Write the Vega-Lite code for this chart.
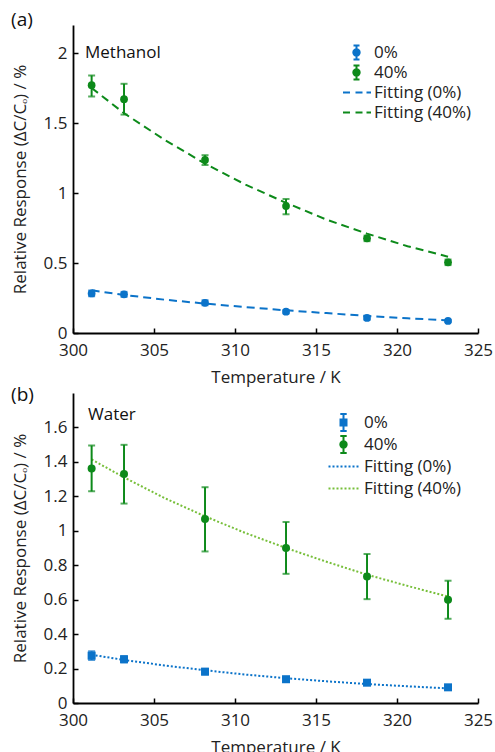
{
  "$schema": "https://vega.github.io/schema/vega-lite/v6.json",
  "background": "white",
  "padding": {"left": 11, "top": 11, "right": 0, "bottom": 0},
  "spacing": 1,
  "config": {
    "font": "Open Sans",
    "view": {"stroke": null},
    "axis": {
      "grid": false,
      "domainColor": "#000",
      "domainWidth": 1.8,
      "tickColor": "#000",
      "tickWidth": 1.5,
      "tickSize": -5,
      "labelFont": "Open Sans",
      "labelFontSize": 17,
      "labelColor": "#222",
      "labelFlush": false,
      "labelOverlap": false,
      "labelBound": false,
      "titleFont": "Open Sans",
      "titleFontSize": 17,
      "titleFontWeight": "normal",
      "titleColor": "#222"
    },
    "axisX": {"labelPadding": 14, "titlePadding": 11},
    "axisY": {"labelPadding": 11, "titlePadding": 14},
    "legend": {
      "labelFont": "Open Sans",
      "labelFontSize": 17,
      "labelColor": "#222",
      "symbolSize": 144,
      "symbolStrokeWidth": 2,
      "padding": 0
    },
    "title": {"font": "Open Sans", "fontSize": 19, "fontWeight": "normal", "color": "#111"}
  },
  "datasets": {
    "pts": [
      {"panel": "a", "series": "0%", "T": 301.15, "y": 0.283, "lo": 0.263, "hi": 0.303},
      {"panel": "a", "series": "0%", "T": 303.15, "y": 0.276, "lo": 0.258, "hi": 0.294},
      {"panel": "a", "series": "0%", "T": 308.15, "y": 0.216, "lo": 0.198, "hi": 0.234},
      {"panel": "a", "series": "0%", "T": 313.15, "y": 0.152, "lo": 0.14, "hi": 0.164},
      {"panel": "a", "series": "0%", "T": 318.15, "y": 0.108, "lo": 0.094, "hi": 0.122},
      {"panel": "a", "series": "0%", "T": 323.15, "y": 0.086, "lo": 0.078, "hi": 0.094},
      {"panel": "a", "series": "40%", "T": 301.15, "y": 1.77, "lo": 1.69, "hi": 1.84},
      {"panel": "a", "series": "40%", "T": 303.15, "y": 1.67, "lo": 1.56, "hi": 1.78},
      {"panel": "a", "series": "40%", "T": 308.15, "y": 1.236, "lo": 1.2, "hi": 1.27},
      {"panel": "a", "series": "40%", "T": 313.15, "y": 0.907, "lo": 0.848, "hi": 0.957},
      {"panel": "a", "series": "40%", "T": 318.15, "y": 0.676, "lo": 0.656, "hi": 0.696},
      {"panel": "a", "series": "40%", "T": 323.15, "y": 0.505, "lo": 0.485, "hi": 0.525},
      {"panel": "b", "series": "0%", "T": 301.15, "y": 0.275, "lo": 0.25, "hi": 0.3},
      {"panel": "b", "series": "0%", "T": 303.15, "y": 0.254, "lo": 0.236, "hi": 0.272},
      {"panel": "b", "series": "0%", "T": 308.15, "y": 0.182, "lo": 0.166, "hi": 0.198},
      {"panel": "b", "series": "0%", "T": 313.15, "y": 0.138, "lo": 0.124, "hi": 0.152},
      {"panel": "b", "series": "0%", "T": 318.15, "y": 0.118, "lo": 0.106, "hi": 0.13},
      {"panel": "b", "series": "0%", "T": 323.15, "y": 0.091, "lo": 0.08, "hi": 0.102},
      {"panel": "b", "series": "40%", "T": 301.15, "y": 1.361, "lo": 1.229, "hi": 1.495},
      {"panel": "b", "series": "40%", "T": 303.15, "y": 1.33, "lo": 1.158, "hi": 1.499},
      {"panel": "b", "series": "40%", "T": 308.15, "y": 1.069, "lo": 0.88, "hi": 1.253},
      {"panel": "b", "series": "40%", "T": 313.15, "y": 0.9, "lo": 0.75, "hi": 1.051},
      {"panel": "b", "series": "40%", "T": 318.15, "y": 0.735, "lo": 0.603, "hi": 0.865},
      {"panel": "b", "series": "40%", "T": 323.15, "y": 0.599, "lo": 0.489, "hi": 0.71}
    ],
    "fit": [
      {"panel": "a", "series": "Fitting (0%)", "T": 301.15, "y": 0.305},
      {"panel": "a", "series": "Fitting (0%)", "T": 303.15, "y": 0.272},
      {"panel": "a", "series": "Fitting (0%)", "T": 305.65, "y": 0.238},
      {"panel": "a", "series": "Fitting (0%)", "T": 308.15, "y": 0.21},
      {"panel": "a", "series": "Fitting (0%)", "T": 310.65, "y": 0.185},
      {"panel": "a", "series": "Fitting (0%)", "T": 313.15, "y": 0.162},
      {"panel": "a", "series": "Fitting (0%)", "T": 315.65, "y": 0.142},
      {"panel": "a", "series": "Fitting (0%)", "T": 318.15, "y": 0.122},
      {"panel": "a", "series": "Fitting (0%)", "T": 320.65, "y": 0.105},
      {"panel": "a", "series": "Fitting (0%)", "T": 323.15, "y": 0.09},
      {"panel": "a", "series": "Fitting (40%)", "T": 301.15, "y": 1.75},
      {"panel": "a", "series": "Fitting (40%)", "T": 303.15, "y": 1.57},
      {"panel": "a", "series": "Fitting (40%)", "T": 305.65, "y": 1.38},
      {"panel": "a", "series": "Fitting (40%)", "T": 308.15, "y": 1.21},
      {"panel": "a", "series": "Fitting (40%)", "T": 310.65, "y": 1.06},
      {"panel": "a", "series": "Fitting (40%)", "T": 313.15, "y": 0.93},
      {"panel": "a", "series": "Fitting (40%)", "T": 315.65, "y": 0.81},
      {"panel": "a", "series": "Fitting (40%)", "T": 318.15, "y": 0.71},
      {"panel": "a", "series": "Fitting (40%)", "T": 320.65, "y": 0.62},
      {"panel": "a", "series": "Fitting (40%)", "T": 323.15, "y": 0.545},
      {"panel": "b", "series": "Fitting (0%)", "T": 301.15, "y": 0.28},
      {"panel": "b", "series": "Fitting (0%)", "T": 303.15, "y": 0.25},
      {"panel": "b", "series": "Fitting (0%)", "T": 305.65, "y": 0.218},
      {"panel": "b", "series": "Fitting (0%)", "T": 308.15, "y": 0.19},
      {"panel": "b", "series": "Fitting (0%)", "T": 310.65, "y": 0.165},
      {"panel": "b", "series": "Fitting (0%)", "T": 313.15, "y": 0.144},
      {"panel": "b", "series": "Fitting (0%)", "T": 315.65, "y": 0.126},
      {"panel": "b", "series": "Fitting (0%)", "T": 318.15, "y": 0.11},
      {"panel": "b", "series": "Fitting (0%)", "T": 320.65, "y": 0.097},
      {"panel": "b", "series": "Fitting (0%)", "T": 323.15, "y": 0.085},
      {"panel": "b", "series": "Fitting (40%)", "T": 301.15, "y": 1.414},
      {"panel": "b", "series": "Fitting (40%)", "T": 303.15, "y": 1.31},
      {"panel": "b", "series": "Fitting (40%)", "T": 305.65, "y": 1.19},
      {"panel": "b", "series": "Fitting (40%)", "T": 308.15, "y": 1.084},
      {"panel": "b", "series": "Fitting (40%)", "T": 310.65, "y": 0.987},
      {"panel": "b", "series": "Fitting (40%)", "T": 313.15, "y": 0.9},
      {"panel": "b", "series": "Fitting (40%)", "T": 315.65, "y": 0.82},
      {"panel": "b", "series": "Fitting (40%)", "T": 318.15, "y": 0.745},
      {"panel": "b", "series": "Fitting (40%)", "T": 320.65, "y": 0.68},
      {"panel": "b", "series": "Fitting (40%)", "T": 323.15, "y": 0.618}
    ],
    "notes": [
      {"panel": "a", "T": 300.74, "y": 2.0, "label": "Methanol"},
      {"panel": "b", "T": 300.93, "y": 1.675, "label": "Water"}
    ]
  },
  "resolve": {"scale": {"color": "independent", "shape": "independent"}, "legend": {"color": "independent", "shape": "independent"}},
  "vconcat": [
    {
      "title": {"text": "(a)", "anchor": "start", "frame": "bounds", "offset": -5},
      "width": 405,
      "height": 308,
      "encoding": {
        "x": {"field": "T", "type": "quantitative", "scale": {"domain": [300, 325], "nice": false, "zero": false}, "axis": {"title": "Temperature / K", "values": [300, 305, 310, 315, 320, 325]}},
        "color": {
          "field": "series", "type": "nominal",
          "scale": {"domain": ["0%", "40%", "Fitting (0%)", "Fitting (40%)"], "range": ["#0b73c9", "#0d8a1a", "#0b73c9", "#0d8a1a"]},
          "legend": {"orient": "none", "legendX": 275, "legendY": 19, "labelOffset": 9, "rowPadding": -7, "title": null}
        }
      },
      "layer": [
        {
          "data": {"name": "pts"},
          "transform": [{"filter": "false"}],
          "mark": {"type": "point", "filled": true, "opacity": 1},
          "encoding": {
            "y": {"field": "y", "type": "quantitative", "scale": {"domain": [0, 2.2], "nice": false}, "axis": {"title": "Relative Response (ΔC/Cₒ) / %", "values": [0, 0.5, 1, 1.5, 2], "format": "~g"}},
            "shape": {"field": "series", "type": "nominal",
              "scale": {"domain": ["0%", "40%", "Fitting (0%)", "Fitting (40%)"],
                "range": [
                  "M-2.25,-1.2M2.417,1.2M-0.533,0A0.533,0.533,0,1,0,0.533,0A0.533,0.533,0,1,0,-0.533,0ZM0,-1.17V1.17M-0.5,-1.17H0.5M-0.5,1.17H0.5",
                  "M-2.25,-1.2M2.417,1.2M-0.533,0A0.533,0.533,0,1,0,0.533,0A0.533,0.533,0,1,0,-0.533,0ZM0,-1.17V1.17M-0.5,-1.17H0.5M-0.5,1.17H0.5",
                  "M-2.25,-1.2M2.417,1.2M-2.25,0H-1.083M-0.167,0H1.0M1.667,0H2.417",
                  "M-2.25,-1.2M2.417,1.2M-2.25,0H-1.083M-0.167,0H1.0M1.667,0H2.417"
                ]},
              "legend": {"orient": "none", "legendX": 275, "legendY": 19, "labelOffset": 9, "rowPadding": -7, "title": null}}
          }
        },
        {
          "data": {"name": "fit"},
          "transform": [{"filter": "datum.panel == 'a'"}],
          "mark": {"type": "line", "strokeDash": [8, 5], "strokeWidth": 2},
          "encoding": {"y": {"field": "y", "type": "quantitative", "axis": {"title": "Relative Response (ΔC/Cₒ) / %", "values": [0, 0.5, 1, 1.5, 2], "format": "~g"}}}
        },
        {
          "data": {"name": "pts"},
          "transform": [{"filter": "datum.panel == 'a'"}],
          "mark": {"type": "errorbar", "thickness": 2, "ticks": {"size": 7, "thickness": 2}},
          "encoding": {"y": {"field": "lo", "type": "quantitative", "axis": {"title": "Relative Response (ΔC/Cₒ) / %", "values": [0, 0.5, 1, 1.5, 2], "format": "~g"}}, "y2": {"field": "hi"}}
        },
        {
          "data": {"name": "pts"},
          "transform": [{"filter": "datum.panel == 'a'"}],
          "mark": {"type": "point", "filled": true, "size": 60, "opacity": 1, "shape": "circle"},
          "encoding": {"y": {"field": "y", "type": "quantitative", "axis": {"title": "Relative Response (ΔC/Cₒ) / %", "values": [0, 0.5, 1, 1.5, 2], "format": "~g"}}}
        },
        {
          "data": {"name": "notes"},
          "transform": [{"filter": "datum.panel == 'a'"}],
          "mark": {"type": "text", "align": "left", "baseline": "middle", "fontSize": 17, "font": "Open Sans"},
          "encoding": {"y": {"field": "y", "type": "quantitative", "axis": {"title": "Relative Response (ΔC/Cₒ) / %", "values": [0, 0.5, 1, 1.5, 2], "format": "~g"}}, "text": {"field": "label"}, "color": {"value": "#111"}}
        }
      ]
    },
    {
      "title": {"text": "(b)", "anchor": "start", "frame": "bounds", "offset": -12},
      "width": 405,
      "height": 310,
      "encoding": {
        "x": {"field": "T", "type": "quantitative", "scale": {"domain": [300, 325], "nice": false, "zero": false}, "axis": {"title": "Temperature / K", "values": [300, 305, 310, 315, 320, 325]}},
        "color": {
          "field": "series", "type": "nominal",
          "scale": {"domain": ["0%", "40%", "Fitting (0%)", "Fitting (40%)"], "range": ["#0b73c9", "#0d8a1a", "#0b73c9", "#77bf3a"]},
          "legend": {"orient": "none", "legendX": 262, "legendY": 21, "rowPadding": -5, "labelOffset": 12, "title": null}
        }
      },
      "layer": [
        {
          "data": {"name": "pts"},
          "transform": [{"filter": "false"}],
          "mark": {"type": "point", "filled": true, "opacity": 1},
          "encoding": {
            "y": {"field": "y", "type": "quantitative", "scale": {"domain": [0, 1.8], "nice": false}, "axis": {"title": "Relative Response (ΔC/Cₒ) / %", "values": [0, 0.2, 0.4, 0.6, 0.8, 1, 1.2, 1.4, 1.6], "format": "~g"}},
            "shape": {"field": "series", "type": "nominal",
              "scale": {"domain": ["0%", "40%", "Fitting (0%)", "Fitting (40%)"],
                "range": [
                  "M-2.5,-1.5M2.583,1.5M-0.5,-0.5H0.5V0.5H-0.5ZM0,-1.417V1.417M-0.533,-1.417H0.533M-0.533,1.417H0.533",
                  "M-2.5,-1.5M2.583,1.5M-0.533,0A0.533,0.533,0,1,0,0.533,0A0.533,0.533,0,1,0,-0.533,0ZM0,-1.417V1.417M-0.533,-1.417H0.533M-0.533,1.417H0.533",
                  "M-2.5,-1.5M2.583,1.5M-2.5,0H-2.167M-1.833,0H-1.5M-1.167,0H-0.833M-0.5,0H-0.167M0.167,0H0.5M0.833,0H1.167M1.5,0H1.833M2.167,0H2.5",
                  "M-2.5,-1.5M2.583,1.5M-2.5,0H-2.167M-1.833,0H-1.5M-1.167,0H-0.833M-0.5,0H-0.167M0.167,0H0.5M0.833,0H1.167M1.5,0H1.833M2.167,0H2.5"
                ]},
              "legend": {"orient": "none", "legendX": 262, "legendY": 21, "rowPadding": -5, "labelOffset": 12, "title": null}}
          }
        },
        {
          "data": {"name": "fit"},
          "transform": [{"filter": "datum.panel == 'b'"}],
          "mark": {"type": "line", "strokeDash": [2, 2], "strokeWidth": 2},
          "encoding": {"y": {"field": "y", "type": "quantitative", "axis": {"title": "Relative Response (ΔC/Cₒ) / %", "values": [0, 0.2, 0.4, 0.6, 0.8, 1, 1.2, 1.4, 1.6], "format": "~g"}}}
        },
        {
          "data": {"name": "pts"},
          "transform": [{"filter": "datum.panel == 'b'"}],
          "mark": {"type": "errorbar", "thickness": 2, "ticks": {"size": 7, "thickness": 2}},
          "encoding": {"y": {"field": "lo", "type": "quantitative", "axis": {"title": "Relative Response (ΔC/Cₒ) / %", "values": [0, 0.2, 0.4, 0.6, 0.8, 1, 1.2, 1.4, 1.6], "format": "~g"}}, "y2": {"field": "hi"}}
        },
        {
          "data": {"name": "pts"},
          "transform": [{"filter": "datum.panel == 'b' && datum.series == '0%'"}],
          "mark": {"type": "point", "filled": true, "size": 64, "opacity": 1, "shape": "square"},
          "encoding": {"y": {"field": "y", "type": "quantitative", "axis": {"title": "Relative Response (ΔC/Cₒ) / %", "values": [0, 0.2, 0.4, 0.6, 0.8, 1, 1.2, 1.4, 1.6], "format": "~g"}}}
        },
        {
          "data": {"name": "pts"},
          "transform": [{"filter": "datum.panel == 'b' && datum.series == '40%'"}],
          "mark": {"type": "point", "filled": true, "size": 64, "opacity": 1, "shape": "circle"},
          "encoding": {"y": {"field": "y", "type": "quantitative", "axis": {"title": "Relative Response (ΔC/Cₒ) / %", "values": [0, 0.2, 0.4, 0.6, 0.8, 1, 1.2, 1.4, 1.6], "format": "~g"}}}
        },
        {
          "data": {"name": "notes"},
          "transform": [{"filter": "datum.panel == 'b'"}],
          "mark": {"type": "text", "align": "left", "baseline": "middle", "fontSize": 17, "font": "Open Sans"},
          "encoding": {"y": {"field": "y", "type": "quantitative", "axis": {"title": "Relative Response (ΔC/Cₒ) / %", "values": [0, 0.2, 0.4, 0.6, 0.8, 1, 1.2, 1.4, 1.6], "format": "~g"}}, "text": {"field": "label"}, "color": {"value": "#111"}}
        }
      ]
    }
  ]
}
